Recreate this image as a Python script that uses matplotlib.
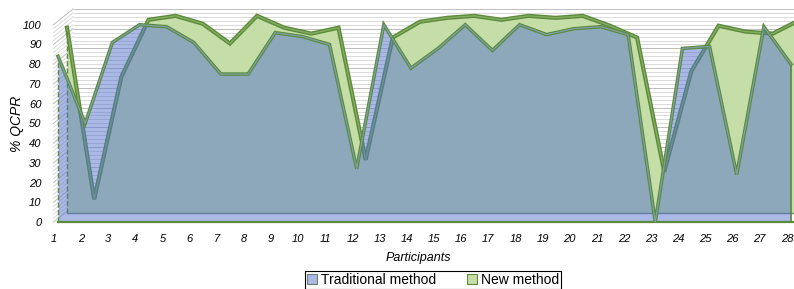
import matplotlib
matplotlib.use("Agg")
import matplotlib.pyplot as plt
from matplotlib.patches import Patch
import numpy as np

plt.rcParams["font.family"] = ["Liberation Sans", "DejaVu Sans"]

# % QCPR per participant
participants = list(range(1, 29))
traditional = [84, 50, 91, 100, 99, 91, 75, 75, 96, 94, 90, 27, 100, 78,
               88, 100, 87, 100, 95, 98, 99, 95, 0, 88, 89, 24, 99, 80]
new_method = [94, 7, 69, 98, 100, 96, 86, 100, 94, 91, 94, 27, 89, 97,
              99, 100, 98, 100, 99, 100, 95, 89, 21, 72, 95, 92, 91, 98]
series_labels = ["Traditional method", "New method"]

# pseudo-3D depth: back row drawn shifted right/up
FRONT_DX = 0.15
BACK_DX = 0.48
BACK_DY = 4.5
WALL_DY = 8

BLUE = "#5573cd"
GREEN_FILL = "#c5dea8"
EDGE_GREEN = "#5a8a3a"

fig = plt.figure(figsize=(7.94, 2.89), dpi=100)
ax = fig.add_axes([50 / 794, 65 / 289, 744 / 794, 219 / 289])

x = np.array(participants, dtype=float)
trad = np.array(traditional, dtype=float)
new = np.array(new_method, dtype=float)
xf = x + FRONT_DX
xb = x + BACK_DX

# back wall + side wall grid
for v in range(0, 101, 2):
    col = "#bdbdbd" if v % 10 == 0 else "#dadada"
    ax.hlines(v + WALL_DY, 1.7, 29, color=col, lw=0.7, zorder=0)
    ax.plot([0.98, 1.7], [v, v + WALL_DY], color=col, lw=0.7, zorder=0)

# back series (new method)
ax.fill_between(xb, BACK_DY, new + BACK_DY, color=GREEN_FILL, lw=0, zorder=2)
ax.plot(xb, new + BACK_DY, color=EDGE_GREEN, lw=3.0, zorder=2.5,
        solid_joinstyle="miter")
ax.plot(xb, new + BACK_DY, color="#86ad62", lw=1.0, zorder=2.6)
ax.plot([xb[0], xb[-1]], [BACK_DY, BACK_DY], color="#6f8a78", lw=1.0, zorder=2.6)
ax.plot([xb[0], xb[0]], [BACK_DY, new[0] + BACK_DY], color=EDGE_GREEN,
        lw=1.0, ls="--", zorder=2.6)

# front series (traditional method), translucent
ax.fill_between(xf, 0, trad, color=BLUE, alpha=0.5, lw=0, zorder=3)
ax.plot(xf, trad, color=EDGE_GREEN, lw=2.5, zorder=4, solid_joinstyle="miter")
ax.plot(xf, trad, color="#7f9faa", lw=0.9, zorder=4.1)
ax.plot([xf[0], xf[0]], [0, trad[0]], color=EDGE_GREEN, lw=1.0, ls="--", zorder=4)
ax.plot([xf[-1], xf[-1]], [0, trad[-1]], color=EDGE_GREEN, lw=1.2, zorder=4)
ax.plot([xf[0], 29], [0, 0], color=EDGE_GREEN, lw=1.6, zorder=4)

ax.set_xlim(0.853, 28.26)
ax.set_ylim(-1, 110)
for s in ax.spines.values():
    s.set_visible(False)

ax.set_xticks(participants)
ax.set_xticklabels([str(p) for p in participants], style="italic", fontsize=8)
ax.set_yticks(range(0, 101, 10))
ax.set_yticklabels([str(v) for v in range(0, 101, 10)], style="italic", fontsize=8)
ax.tick_params(axis="both", length=0)
ax.tick_params(axis="x", pad=7)
ax.tick_params(axis="y", pad=6)

fig.text(17 / 794, 1 - 124 / 289, "% QCPR", rotation=90, style="italic",
         fontsize=10, ha="center", va="center")
fig.text(418 / 794, 1 - 258 / 289, "Participants", style="italic",
         fontsize=9, ha="center", va="center")

handles = [Patch(facecolor="#aab9e6", edgecolor="#6d7f73", lw=0.8),
           Patch(facecolor=GREEN_FILL, edgecolor=EDGE_GREEN, lw=0.8)]
leg = fig.legend(handles, series_labels, loc="upper center",
                 bbox_to_anchor=(433 / 794, 1 - 271 / 289), ncol=2,
                 fontsize=10, frameon=True, fancybox=False, edgecolor="black",
                 framealpha=1, handlelength=0.7, handleheight=0.7,
                 handletextpad=0.3, columnspacing=2.2, borderpad=0.15,
                 borderaxespad=0)
leg.get_frame().set_linewidth(0.8)

fig.savefig("out.png", dpi=100)
